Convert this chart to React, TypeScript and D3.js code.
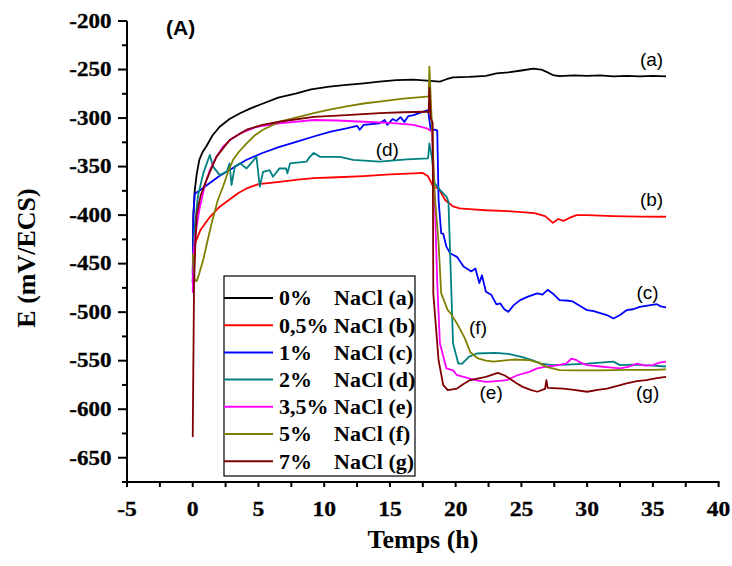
import React from "react";
import * as d3 from "d3";

type P = [number, number];

const xTicks = [-5, 0, 5, 10, 15, 20, 25, 30, 35, 40];
const yTicks = [-200, -250, -300, -350, -400, -450, -500, -550, -600, -650];

const seriesNames = ["0%", "0,5%", "1%", "2%", "3,5%", "5%", "7%"];
const seriesTags = ["(a)", "(b)", "(c)", "(d)", "(e)", "(f)", "(g)"];
const seriesColors = ["#000000", "#ff0000", "#0000ff", "#008080", "#ff00ff", "#808000", "#800000"];

const black0: P[] = [
  [0, -460], [0.05, -400], [0.15, -375], [0.3, -358], [0.5, -343], [0.75, -335], [1.04, -329], [1.5, -318],
  [2.05, -309], [2.8, -301], [3.6, -295], [4.4, -290], [5.35, -285], [6.5, -279], [7.9, -274.5], [9, -270.5],
  [10.4, -267.7], [11.5, -266], [13, -264.2], [14.2, -262.5], [15.5, -261], [16.8, -260.5], [17.8, -261.5],
  [18.3, -262], [18.8, -262.5], [19.3, -260], [19.8, -258], [21, -257.5], [22.3, -256.5], [23.1, -254],
  [24, -253], [25, -251], [25.9, -249], [26.5, -250], [27.0, -253], [27.4, -255.7], [27.9, -256.7], [29, -256],
  [30, -256.5], [31, -256], [32, -257], [33, -256.5], [34, -257], [35, -256.5], [36, -257],
];

const red05: P[] = [
  [0, -470], [0.05, -440], [0.2, -428], [0.6, -415], [1.3, -402], [2, -392], [2.8, -384], [3.5, -377],
  [4.1, -372.5], [5, -368], [6.6, -365.7], [8, -363.5], [9.2, -362], [11, -361], [13, -359.8], [15, -358],
  [16.8, -357], [17.5, -356.5], [17.9, -360], [18.3, -370.8], [18.7, -372.5], [19.2, -384.5], [19.8, -391],
  [20.3, -393], [21.3, -394], [22.3, -395], [24, -396], [26, -398], [26.8, -401], [27.4, -408], [27.8, -404],
  [28.2, -406], [28.8, -402], [29.2, -400], [30, -400], [32, -401], [34, -401.5], [36, -401.7],
];

const blue1: P[] = [
  [0, -470], [0.05, -400], [0.15, -378], [0.5, -375], [1.3, -367], [2, -360], [2.8, -353.6], [4.1, -343],
  [5.3, -336], [6.6, -329.6], [8, -324], [9.2, -319], [10.5, -314], [11.7, -310.6], [12.5, -308], [12.7, -312],
  [13, -307], [14.2, -305.5], [14.6, -302], [14.8, -307], [15.2, -301], [15.5, -303], [15.8, -299], [16.1, -304],
  [16.4, -298], [16.8, -297], [17.2, -295], [17.6, -293], [17.9, -291.8], [18.1, -312], [18.4, -312],
  [18.6, -313], [18.7, -384.5], [18.9, -418.9], [19.05, -419], [19.3, -432.7], [19.6, -439.5], [20.1, -443],
  [20.6, -453], [21.2, -458], [21.5, -455], [21.8, -470], [22, -462], [22.3, -479], [22.7, -482], [23.1, -492],
  [23.4, -491], [23.7, -497], [24, -499.7], [24.4, -493], [24.9, -487.6], [25.5, -484], [26.2, -480.7],
  [26.6, -482], [27, -477], [27.4, -481], [27.9, -487.6], [28.4, -488], [28.9, -489], [29.5, -494], [30, -498],
  [30.5, -499], [31, -501], [31.5, -503], [32, -506.5], [32.5, -503], [33, -498], [33.5, -497], [34, -494.5],
  [34.7, -493], [35.3, -491.8], [35.6, -494], [36, -495],
];

const teal2: P[] = [
  [0, -460], [0.1, -420], [0.4, -380], [0.8, -357], [1.3, -338], [1.55, -350], [2.05, -358.8], [2.6, -355],
  [2.8, -346.7], [2.95, -369], [3.2, -350], [3.6, -346.7], [4.1, -351.9], [4.85, -340], [5.1, -370.8],
  [5.35, -355.4], [5.85, -353.6], [6.1, -360.5], [6.6, -351.9], [7.1, -352], [7.2, -357], [7.4, -346.7],
  [8.65, -345], [8.9, -340], [9.2, -336], [9.7, -340], [11.2, -340], [12.2, -343], [14.2, -345], [16.3, -342.6],
  [17.9, -341.5], [18, -326], [18.2, -341.5], [18.4, -367], [18.8, -374], [19.3, -381], [19.45, -386],
  [19.8, -532], [20.2, -553], [20.5, -553], [21, -546], [21.6, -542.6], [23, -542], [24, -543], [25, -546],
  [25.7, -549], [26.5, -553], [27.4, -554.6], [28.5, -554], [30, -553], [31, -552], [32, -551], [32.5, -554.6],
  [33.5, -554], [35, -555], [36, -556],
];

const magenta35: P[] = [
  [0, -480], [0.05, -440], [0.2, -420], [0.5, -394.8], [0.9, -370], [1.3, -353.6], [1.8, -340], [2.3, -329.6],
  [3, -321], [3.6, -315.8], [4.85, -309], [6.6, -305.5], [9.2, -302], [11, -302.5], [13, -303.8], [15, -305],
  [16.8, -307], [17.8, -310.6], [18.2, -314], [18.4, -380], [18.6, -470], [18.8, -532], [19.3, -558],
  [19.8, -560], [20.1, -565], [20.6, -566.7], [21.5, -570], [22.3, -571.8], [23.1, -571], [23.9, -570],
  [24.7, -565], [25.6, -561.5], [26.2, -558], [26.9, -556], [27.6, -555], [28.4, -553], [28.8, -548],
  [29.1, -548.8], [29.5, -552], [30, -554.6], [31, -556], [31.7, -557], [32.5, -558], [33.2, -556], [33.8, -553],
  [34.4, -555], [35, -554.6], [35.5, -552], [36, -551],
];

const olive5: P[] = [
  [0, -440], [0.15, -467], [0.3, -468], [0.5, -460], [0.8, -446], [1.1, -428], [1.5, -405], [1.9, -385],
  [2.3, -370.8], [2.7, -355], [3.07, -343], [3.5, -335], [4.1, -326], [4.7, -318], [5.35, -312], [6.6, -303.8],
  [8, -299], [9.2, -295], [10.5, -291], [11.7, -288], [13, -285], [14.2, -283], [16, -280], [17.8, -278],
  [17.95, -278], [18, -247], [18.2, -309], [18.4, -377.6], [18.7, -429], [18.9, -480.7], [19.4, -498],
  [19.6, -501], [20.1, -511.6], [20.7, -527], [21.1, -541], [21.7, -547.7], [22.3, -550], [22.9, -551],
  [23.6, -550], [24.4, -548.8], [25.6, -549.5], [26.3, -552], [26.9, -556.4], [27.9, -559.8], [29, -560],
  [31, -560], [33, -559.5], [35, -559.5], [36, -559],
];

const brown7: P[] = [
  [0, -628.6], [0.1, -470], [0.2, -430], [0.3, -400], [0.6, -380], [1.04, -364], [1.8, -340], [2.8, -322.7],
  [4.1, -312], [5.3, -307], [6.6, -303.8], [9.2, -298.7], [11.7, -297], [14.2, -295], [16, -294], [17.8, -293.5],
  [17.95, -294], [18, -269], [18.1, -300], [18.25, -305], [18.3, -481], [18.7, -549.5], [19.05, -575],
  [19.4, -580.4], [20.1, -578.7], [20.6, -574], [21.1, -570], [22.3, -566.7], [23.2, -562.6], [23.7, -565],
  [24.1, -568.4], [24.6, -573], [25.1, -577], [25.7, -580], [26.2, -582], [26.8, -579], [26.9, -570], [27, -578],
  [28.2, -578.7], [29, -580], [30, -582], [30.8, -580], [31.5, -578.7], [32.3, -576], [33, -573.5], [33.8, -571],
  [34.5, -570], [35.3, -568], [36, -566.7],
];

const allSeries: P[][] = [black0, red05, blue1, teal2, magenta35, olive5, brown7];

// curve tag label anchors in data units
const tagPos: P[] = [[34.9, -246], [34.9, -390.6], [34.6, -486.5], [14.8, -339], [22.7, -589], [21.7, -522.5], [34.6, -589]];

const W = 732;
const H = 566;
const serif = "'Liberation Serif', 'Times New Roman', Times, serif";
const sans = "'Liberation Sans', Arial, Helvetica, sans-serif";

const boldSerif = (size: number): React.CSSProperties => ({
  fontFamily: serif,
  fontWeight: 700,
  fontSize: size + "px",
});

export default function App() {
  const x = d3.scaleLinear().domain([-5, 40]).range([127, 718.6]);
  const y = d3.scaleLinear().domain([-675, -200]).range([482, 21]);
  const line = d3
    .line<P>()
    .x((d) => x(d[0]))
    .y((d) => y(d[1]));

  const xMinor = d3.range(-5, 40.01, 2.5);
  const yMinor = d3.range(-675, -199.9, 25);

  const legX = 224;
  const legY = 276;
  const legW = 191;
  const legH = 200;
  const rowH = 27.2;

  return (
    <svg width={W} height={H} style={{ position: "absolute", left: 0, top: 0, background: "#fff" }}>
      <rect x={0} y={0} width={W} height={H} fill="#fff" />
      <g fill="none" strokeWidth={1.8} strokeLinejoin="round">
        {allSeries.map((s, i) => (
          <path key={i} d={line(s) || ""} stroke={seriesColors[i]} />
        ))}
      </g>
      <g stroke="#000" strokeWidth={2}>
        <line x1={127} x2={127} y1={21} y2={483} />
        <line x1={126} x2={719.6} y1={482} y2={482} />
        {yMinor.map((v) => {
          const major = Math.abs(Math.round(v) % 50) === 0;
          return <line key={"ym" + v} x1={127} x2={major ? 118 : 122} y1={y(v)} y2={y(v)} />;
        })}
        {xMinor.map((v) => (
          <line key={"xm" + v} x1={x(v)} x2={x(v)} y1={482} y2={487} />
        ))}
      </g>
      {yTicks.map((v) => (
        <text
          key={"yl" + v}
          transform={`translate(111.5,${y(v)}) scale(1.15,1)`}
          dy="0.34em"
          textAnchor="end"
          style={boldSerif(20)}
          stroke="#000"
          strokeWidth={0.3}
        >
          {String(v)}
        </text>
      ))}
      {xTicks.map((v) => (
        <text
          key={"xl" + v}
          transform={`translate(${x(v)},516) scale(1.15,1)`}
          textAnchor="middle"
          style={boldSerif(20.5)}
          stroke="#000"
          strokeWidth={0.3}
        >
          {String(v)}
        </text>
      ))}
      <text x={423} y={548} textAnchor="middle" style={boldSerif(26)}>
        Temps (h)
      </text>
      <text transform="translate(35,258) rotate(-90)" textAnchor="middle" style={boldSerif(26)}>
        E (mV/ECS)
      </text>
      <text x={166} y={35} style={{ fontFamily: sans, fontWeight: 700, fontSize: "21px" }}>
        (A)
      </text>
      {seriesTags.map((t, i) => (
        <text
          key={"tag" + i}
          x={x(tagPos[i][0])}
          y={y(tagPos[i][1])}
          textAnchor="middle"
          style={{ fontFamily: sans, fontWeight: 400, fontSize: "19px" }}
        >
          {t}
        </text>
      ))}
      <rect x={legX} y={legY} width={legW} height={legH} fill="#fff" stroke="#000" strokeWidth={1.2} />
      {seriesNames.map((n, i) => {
        const cy = legY + 22 + i * rowH;
        return (
          <g key={"leg" + i}>
            <line x1={legX} x2={legX + 49} y1={cy} y2={cy} stroke={seriesColors[i]} strokeWidth={2} />
            <text x={legX + 55} y={cy} dy="0.34em" style={boldSerif(22)}>
              {n}
            </text>
            <text x={legX + 110} y={cy} dy="0.34em" style={boldSerif(22)}>
              {"NaCl " + seriesTags[i]}
            </text>
          </g>
        );
      })}
    </svg>
  );
}
